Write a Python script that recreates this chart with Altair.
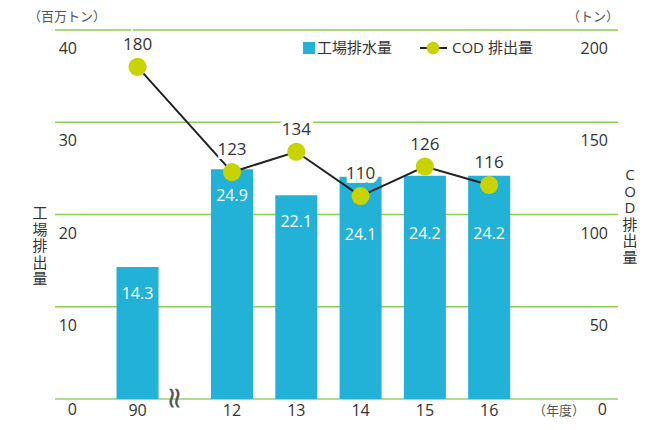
import altair as alt
import pandas as pd

# ---- data ----
years = [1990, 2012, 2013, 2014, 2015, 2016]
year_labels = ["90", "12", "13", "14", "15", "16"]
water = [14.3, 24.9, 22.1, 24.1, 24.2, 24.2]       # 工場排水量 (百万トン)
cod = [180, 123, 134, 110, 126, 116]               # COD 排出量 (トン)
left_ticks = [0, 10, 20, 30, 40]
right_ticks = [0, 50, 100, 150, 200]

FONT = "Open Sans, Noto Sans CJK JP, sans-serif"
W, H = 563, 369
BAR = "#22b1d7"
DOT = "#c8d400"
GRID = "#8dce52"
BASE = "#b2dc95"
TXT = "#333333"

df = pd.DataFrame({
    "year": years,
    "label": year_labels,
    "water": water,
    "cod": cod,
    "water_txt": [f"{v:.1f}" for v in water],
    "cod_txt": [str(v) for v in cod],
})
lt = pd.DataFrame({"v": left_ticks, "t": [str(v) for v in left_ticks]})
rt = pd.DataFrame({"v": right_ticks, "t": [str(v) for v in right_ticks]})

xs = alt.Scale(domain=[1990, 2012, 2016], range=[81, 177, 457])
yl = alt.Scale(domain=[0, 40])
yr = alt.Scale(domain=[0, 200])
X = alt.X("year:Q", scale=xs, axis=None)

grid = alt.Chart(lt[lt.v > 0]).mark_rule(color=GRID, strokeWidth=1.3).encode(
    y=alt.Y("v:Q", scale=yl, axis=None))
base = alt.Chart(lt[lt.v == 0]).mark_rule(color=BASE, strokeWidth=2).encode(
    y=alt.Y("v:Q", scale=yl, axis=None))

bars = alt.Chart(df).mark_bar(size=42, color=BAR, orient="vertical").encode(
    x=X, y=alt.Y("water:Q", scale=yl, axis=None))

bar_labels_a = alt.Chart(df[df.year < 2014]).mark_text(
    font=FONT, fontSize=16, color="white", baseline="middle", dy=27).encode(
    x=X, y=alt.Y("water:Q", scale=yl, axis=None), text="water_txt:N")
bar_labels_b = alt.Chart(df[df.year >= 2014]).mark_text(
    font=FONT, fontSize=16, color="white", baseline="middle", dy=58).encode(
    x=X, y=alt.Y("water:Q", scale=yl, axis=None), text="water_txt:N")

line = alt.Chart(df).mark_line(color="#222222", strokeWidth=2).encode(
    x=X, y=alt.Y("cod:Q", scale=yr, axis=None))
pts = alt.Chart(df).mark_circle(size=330, color=DOT, opacity=1).encode(
    x=X, y=alt.Y("cod:Q", scale=yr, axis=None))
pt_bg = alt.Chart(df).mark_text(
    font=FONT, fontSize=17, color="white", stroke="white", strokeWidth=8,
    baseline="middle", dy=-22).encode(
    x=X, y=alt.Y("cod:Q", scale=yr, axis=None), text="cod_txt:N")
pt_labels = alt.Chart(df).mark_text(
    font=FONT, fontSize=17, color=TXT, baseline="middle", dy=-22).encode(
    x=X, y=alt.Y("cod:Q", scale=yr, axis=None), text="cod_txt:N")

# axis labels
left_lab = alt.Chart(lt[lt.v > 0]).mark_text(
    font=FONT, fontSize=16, color=TXT, align="right", baseline="middle", dy=19).encode(
    x=alt.value(22), y=alt.Y("v:Q", scale=yl, axis=None), text="t:N")
left_zero = alt.Chart(lt[lt.v == 0]).mark_text(
    font=FONT, fontSize=16, color=TXT, align="right", baseline="middle", dy=11).encode(
    x=alt.value(22), y=alt.Y("v:Q", scale=yl, axis=None), text="t:N")
right_lab = alt.Chart(rt[rt.v > 0]).mark_text(
    font=FONT, fontSize=16, color=TXT, align="right", baseline="middle", dy=19).encode(
    x=alt.value(553), y=alt.Y("v:Q", scale=yr, axis=None), text="t:N")
right_zero = alt.Chart(rt[rt.v == 0]).mark_text(
    font=FONT, fontSize=16, color=TXT, align="right", baseline="middle", dy=11).encode(
    x=alt.value(552), y=alt.Y("v:Q", scale=yr, axis=None), text="t:N")
x_lab = alt.Chart(df).mark_text(
    font=FONT, fontSize=16, color=TXT, baseline="middle").encode(
    x=X, y=alt.value(H + 12), text="label:N")

brk = alt.Chart(df[df.year == 1990]).mark_text(
    font="DejaVu Sans", fontSize=30, color="#555555", angle=90, baseline="middle").encode(
    x=X, xOffset=alt.value(36), y=alt.value(H - 1), text=alt.value("≈"))


def label(t, x, y, size=14, align="left", color=TXT):
    return alt.Chart(pd.DataFrame({"t": [0]})).mark_text(
        font=FONT, fontSize=size, color=color, align=align, baseline="middle",
        lineHeight=16.5).encode(x=alt.value(x), y=alt.value(y), text=alt.value(t))


deco = [
    label("（百万トン）", -27, -13, 13, color="#555555"),
    label("（トン）", 512, -13, 13, color="#555555"),
    label("（年度）", 478, H + 12, 13, color="#555555"),
    label(["工", "場", "排", "出", "量"], -15, 183, 15, align="center"),
    label(["C", "O", "D", "排", "出", "量"], 575, 145, 15, align="center"),
    label("工場排水量", 262, 18, 15),
    label("COD 排出量", 397, 18, 15),
]
leg_sq = alt.Chart(pd.DataFrame({"t": [0]})).mark_square(
    size=144, color=BAR, opacity=1).encode(x=alt.value(254), y=alt.value(18))
leg_line = alt.Chart(pd.DataFrame({"t": [0]})).mark_rule(
    color="#222222", strokeWidth=2).encode(x=alt.value(365), x2=alt.value(392), y=alt.value(18))
leg_dot = alt.Chart(pd.DataFrame({"t": [0]})).mark_circle(
    size=160, color=DOT, opacity=1).encode(x=alt.value(378), y=alt.value(18))

chart = alt.layer(
    grid, base, bars, bar_labels_a, bar_labels_b, line, pts, pt_bg, pt_labels,
    left_lab, left_zero, right_lab, right_zero, x_lab, brk,
    leg_sq, leg_line, leg_dot, *deco
).resolve_scale(y="independent").properties(
    width=W, height=H,
    padding={"left": 47, "top": 22, "right": 22, "bottom": 21},
    autosize=alt.AutoSizeParams(type="none"),
).configure_view(stroke=None)

chart.save("out.html", embed_options={"renderer": "svg", "actions": False})
